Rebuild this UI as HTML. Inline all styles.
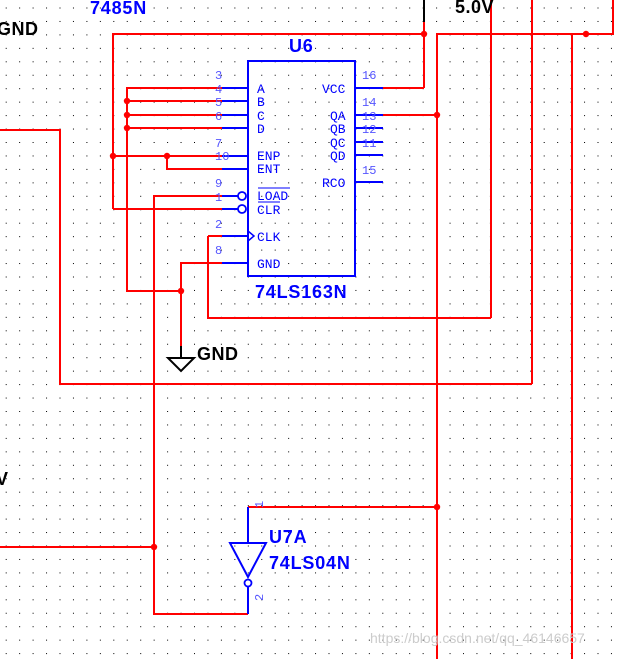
<!DOCTYPE html>
<html><head><meta charset="utf-8"><style>
html,body{margin:0;padding:0;background:#fff;}
svg{display:block;}
</style></head><body>
<svg width="623" height="659" viewBox="0 0 623 659" xmlns="http://www.w3.org/2000/svg">
<defs>
<pattern id="g" x="5.7" y="7.5" width="13.45" height="13.45" patternUnits="userSpaceOnUse">
<rect x="0" y="0" width="1" height="1" fill="#000"/>
</pattern>
</defs>
<rect width="623" height="659" fill="#fff"/>
<rect width="623" height="659" fill="url(#g)"/>

<g stroke="#f00" stroke-width="2" fill="none">
<polyline points="113,209 113,34 424,34"/>
<line x1="424" y1="22" x2="424" y2="88"/>
<line x1="383" y1="88" x2="424" y2="88"/>
<polyline points="437,659 437,34 613,34 613,0"/>
<line x1="491" y1="0" x2="491" y2="318"/>
<polyline points="208,236 208,318 491,318"/>
<line x1="532" y1="0" x2="532" y2="384"/>
<polyline points="0,130 60,130 60,384 532,384"/>
<line x1="572" y1="34" x2="572" y2="659"/>
<line x1="383" y1="115" x2="437" y2="115"/>
<line x1="113" y1="209" x2="222" y2="209"/>
<line x1="113" y1="156" x2="222" y2="156"/>
<polyline points="167,156 167,169 222,169"/>
<polyline points="222,88 127,88 127,291 181,291"/>
<line x1="127" y1="101" x2="222" y2="101"/>
<line x1="127" y1="115" x2="222" y2="115"/>
<line x1="127" y1="128" x2="222" y2="128"/>
<polyline points="222,196 154,196 154,614 248,614"/>
<line x1="208" y1="236" x2="222" y2="236"/>
<polyline points="222,263 181,263 181,346"/>
<line x1="0" y1="547" x2="154" y2="547"/>
<line x1="248" y1="507" x2="437" y2="507"/>
</g>
<g fill="#f00">
<circle cx="424" cy="34" r="3.2"/><circle cx="586" cy="34" r="3.2"/>
<circle cx="437" cy="115" r="3.2"/><circle cx="437" cy="507" r="3.2"/>
<circle cx="113" cy="156" r="3.2"/><circle cx="167" cy="156" r="3.2"/>
<circle cx="127" cy="101" r="3.2"/><circle cx="127" cy="115" r="3.2"/><circle cx="127" cy="128" r="3.2"/>
<circle cx="181" cy="291" r="3.2"/><circle cx="154" cy="547" r="3.2"/>
</g>
<line x1="424" y1="0" x2="424" y2="22" stroke="#000" stroke-width="2"/>
<g stroke="#000" stroke-width="2" fill="none">
<line x1="181" y1="346" x2="181" y2="358"/>
<polygon points="168,358 194,358 181,371"/>
</g>

<g stroke="#00f" stroke-width="2" fill="none">
<rect x="248" y="61" width="107" height="215"/>
<line x1="222" y1="88" x2="248" y2="88"/><line x1="222" y1="101" x2="248" y2="101"/>
<line x1="222" y1="115" x2="248" y2="115"/><line x1="222" y1="128" x2="248" y2="128"/>
<line x1="222" y1="156" x2="248" y2="156"/><line x1="222" y1="169" x2="248" y2="169"/>
<line x1="222" y1="196" x2="238" y2="196"/><line x1="222" y1="209" x2="238" y2="209"/>
<circle cx="242" cy="196" r="4" stroke-width="1.8"/><circle cx="242" cy="209" r="4" stroke-width="1.8"/>
<line x1="222" y1="236" x2="248" y2="236"/><line x1="222" y1="263" x2="248" y2="263"/>
<polyline points="248,231 254,236 248,241" stroke-width="1.5"/>
<line x1="355" y1="88" x2="383" y2="88"/><line x1="355" y1="115" x2="383" y2="115"/>
<line x1="355" y1="128" x2="383" y2="128"/><line x1="355" y1="142" x2="383" y2="142"/>
<line x1="355" y1="155" x2="383" y2="155"/><line x1="355" y1="182" x2="383" y2="182"/>
<line x1="258" y1="188" x2="290" y2="188" stroke-width="1"/>
<line x1="258" y1="202" x2="280" y2="202" stroke-width="1"/>
<line x1="248" y1="507" x2="248" y2="543"/>
<polygon points="230,543 266,543 248,577"/>
<circle cx="248" cy="583" r="3.5" stroke-width="1.8"/>
<line x1="248" y1="587" x2="248" y2="614"/>
</g>
<g font-family="Liberation Mono, monospace" font-size="13" fill="#00f">
<text x="257" y="93">A</text><text x="257" y="106">B</text><text x="257" y="120">C</text><text x="257" y="133">D</text>
<text x="257" y="160">ENP</text><text x="257" y="173">ENT</text>
<text x="257" y="200">LOAD</text><text x="257" y="214">CLR</text>
<text x="257" y="241">CLK</text><text x="257" y="268">GND</text>
<text x="322" y="93">VCC</text><text x="330" y="120">QA</text><text x="330" y="133">QB</text>
<text x="330" y="147">QC</text><text x="330" y="160">QD</text><text x="322" y="187">RCO</text>
</g>
<g font-family="Liberation Mono, monospace" font-size="12" fill="#55f">
<text x="215" y="79">3</text><text x="215" y="93">4</text><text x="215" y="106">5</text><text x="215" y="120">6</text>
<text x="215" y="147">7</text><text x="215" y="160">10</text><text x="215" y="187">9</text><text x="215" y="201">1</text>
<text x="215" y="228">2</text><text x="215" y="254">8</text>
<text x="362" y="79">16</text><text x="362" y="106">14</text><text x="362" y="120">13</text>
<text x="362" y="133">12</text><text x="362" y="147">11</text><text x="362" y="174">15</text>
<text x="263" y="508" transform="rotate(-90 263 508)">1</text>
<text x="263" y="601" transform="rotate(-90 263 601)">2</text>
</g>
<g font-family="Liberation Sans, sans-serif" font-weight="bold" font-size="18" fill="#00f" letter-spacing="0.8">
<text x="90" y="14">7485N</text>
<text x="289" y="52">U6</text>
<text x="255" y="298">74LS163N</text>
<text x="269" y="543">U7A</text>
<text x="269" y="569">74LS04N</text>
</g>
<g font-family="Liberation Sans, sans-serif" font-weight="bold" font-size="18" fill="#000" letter-spacing="0.5">
<text x="-3" y="35">GND</text>
<text x="455" y="13">5.0V</text>
<text x="197" y="360">GND</text>
<text x="-4" y="485">V</text>
</g>
<text x="370" y="643" font-family="Liberation Sans, sans-serif" font-size="14" fill="#ccc">https://blog.csdn.net/qq_46146657</text>
</svg>
</body></html>
